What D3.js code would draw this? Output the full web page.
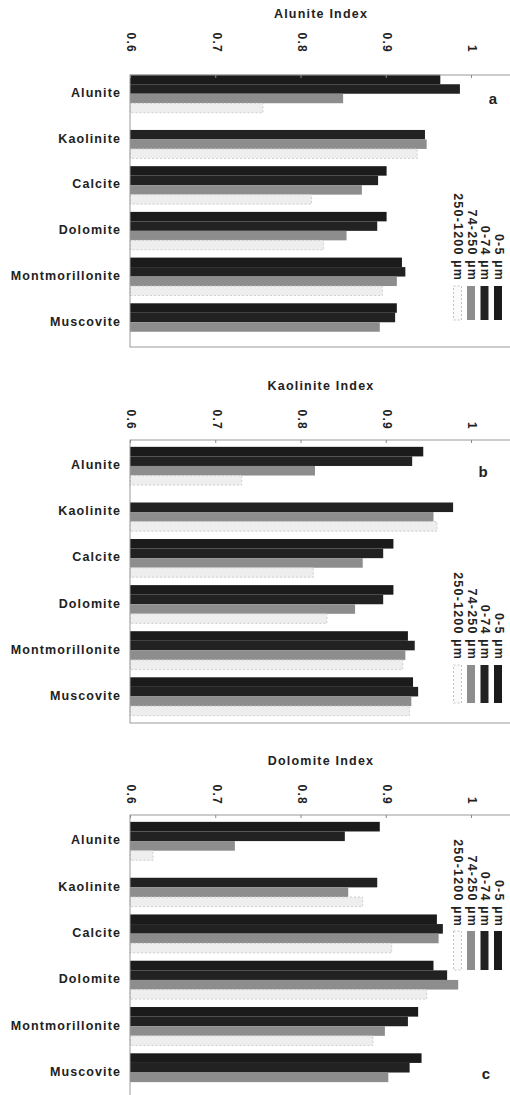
<!DOCTYPE html>
<html>
<head>
<meta charset="utf-8">
<script src="https://cdn.jsdelivr.net/npm/d3@7"></script>
<style>
  body { margin: 0; background: #fff; }
  svg { display: block; font-family: "Liberation Sans", Arial, sans-serif; }
</style>
</head>
<body>
<div id="chart"></div>
<script>
// ---- data ----
const categories = ["Alunite", "Kaolinite", "Calcite", "Dolomite", "Montmorillonite", "Muscovite"];
const seriesLabels = ["0-5 µm", "0-74 µm", "74-250 µm", "250-1200 µm"];
const panelTitles = ["Alunite Index", "Kaolinite Index", "Dolomite Index"];
const panelLetters = ["a", "b", "c"];
const tickValues = [0.6, 0.7, 0.8, 0.9, 1];

// Alunite index (panel a), one array per size fraction
const aluniteIdx_0_5 = [0.964, null, 0.901, 0.901, 0.919, 0.913];
const aluniteIdx_0_74 = [0.987, 0.946, 0.891, 0.890, 0.923, 0.911];
const aluniteIdx_74_250 = [0.850, 0.948, 0.872, 0.854, 0.913, 0.893];
const aluniteIdx_250_1200 = [0.756, 0.937, 0.813, 0.827, 0.896, null];

// Kaolinite index (panel b)
const kaoliniteIdx_0_5 = [0.944, null, 0.909, 0.909, 0.926, 0.932];
const kaoliniteIdx_0_74 = [0.931, 0.979, 0.897, 0.897, 0.934, 0.938];
const kaoliniteIdx_74_250 = [0.817, 0.956, 0.873, 0.864, 0.923, 0.930];
const kaoliniteIdx_250_1200 = [0.731, 0.960, 0.815, 0.831, 0.920, 0.928];

// Dolomite index (panel c)
const dolomiteIdx_0_5 = [0.893, null, 0.960, 0.956, 0.938, 0.942];
const dolomiteIdx_0_74 = [0.852, 0.890, 0.967, 0.972, 0.926, 0.928];
const dolomiteIdx_74_250 = [0.723, 0.856, 0.962, 0.985, 0.899, 0.903];
const dolomiteIdx_250_1200 = [0.627, 0.873, 0.907, 0.948, 0.885, null];

const panelValues = [
  [aluniteIdx_0_5, aluniteIdx_0_74, aluniteIdx_74_250, aluniteIdx_250_1200],
  [kaoliniteIdx_0_5, kaoliniteIdx_0_74, kaoliniteIdx_74_250, kaoliniteIdx_250_1200],
  [dolomiteIdx_0_5, dolomiteIdx_0_74, dolomiteIdx_74_250, dolomiteIdx_250_1200]
];

// ---- layout ----
const width = 510, height = 1095;
const panels = [
  { title: 15,  tickEnd: 53,  top: 75,  bottom: 347,  band0: 67,  step: 47,   letter: [493, 100],  legEnd: 281, sw: [286, 320] },
  { title: 387, tickEnd: 430, top: 440, bottom: 723,  band0: 439, step: 47.4, letter: [483, 473],  legEnd: 660, sw: [665, 703] },
  { title: 762, tickEnd: 805, top: 815, bottom: 1102, band0: 814, step: 47.6, letter: [486, 1075], legEnd: 927, sw: [931, 970] }
];
const fills = ["#1b1b1b", "#222222", "#8d8d8d", "#eeeeee"];
const strokes = ["none", "none", "none", "#c4c4c4"];
const legendX = [498, 484.5, 471, 457.5];

const svg = d3.select("#chart").append("svg")
  .attr("width", width)
  .attr("height", height);

const x = d3.scaleLinear().domain([0.6, 1]).range([130, 471]);
const fmt = d3.format("~g");

panels.forEach((p, pi) => {
  const g = svg.append("g");

  // title
  g.append("text")
    .attr("x", (x(0.6) + 512) / 2)
    .attr("y", p.title)
    .attr("text-anchor", "middle")
    .attr("dominant-baseline", "middle")
    .style("font-size", "12.5px")
    .style("font-weight", "bold")
    .style("letter-spacing", "1.2px")
    .attr("fill", "#222")
    .text(panelTitles[pi]);

  // category band scale
  const y = d3.scaleBand()
    .domain(categories)
    .range([p.band0, p.band0 + p.step * categories.length])
    .padding(0.17);
  const ySub = d3.scaleBand()
    .domain(d3.range(seriesLabels.length))
    .range([0, y.bandwidth()]);

  // bars
  panelValues[pi].forEach((vals, si) => {
    g.append("g").selectAll("rect")
      .data(categories.map((c, ci) => ({ c, v: vals[ci] })).filter(d => d.v != null))
      .enter().append("rect")
      .attr("x", x(0.6))
      .attr("y", d => y(d.c) + ySub(si))
      .attr("width", d => x(d.v) - x(0.6))
      .attr("height", ySub.bandwidth())
      .attr("fill", fills[si])
      .attr("stroke", strokes[si])
      .attr("stroke-dasharray", si === 3 ? "2,2" : null)
      .attr("stroke-width", 0.8);
  });

  // frame (right side runs past the page edge)
  g.append("rect")
    .attr("x", x(0.6))
    .attr("y", p.top)
    .attr("width", 520 - x(0.6))
    .attr("height", p.bottom - p.top)
    .attr("fill", "none")
    .attr("stroke", "#9a9a9a")
    .attr("stroke-width", 1);

  // top axis
  const axis = g.append("g")
    .attr("transform", `translate(0,${p.top})`)
    .call(d3.axisTop(x).tickValues(tickValues).tickFormat(fmt).tickSizeInner(-3).tickSizeOuter(0));
  axis.select(".domain").remove();
  axis.selectAll(".tick line").attr("stroke", "#8a8a8a");
  axis.selectAll(".tick text")
    .attr("x", 0)
    .attr("y", 0)
    .attr("dy", null)
    .attr("transform", `translate(0,${p.tickEnd - p.top}) rotate(90)`)
    .attr("text-anchor", "end")
    .attr("dominant-baseline", "middle")
    .attr("fill", "#222")
    .attr("font-size", 12)
    .attr("font-weight", "bold")
    .attr("font-family", "'Liberation Sans', Arial, sans-serif")
    .style("letter-spacing", "1.3px");

  // category labels
  g.append("g").selectAll("text")
    .data(categories)
    .enter().append("text")
    .attr("x", 121)
    .attr("y", d => y(d) + y.bandwidth() / 2)
    .attr("text-anchor", "end")
    .attr("dominant-baseline", "middle")
    .style("font-size", "12.5px")
    .style("font-weight", "bold")
    .style("letter-spacing", "1.1px")
    .attr("fill", "#222")
    .text(d => d);

  // panel letter
  g.append("text")
    .attr("x", p.letter[0])
    .attr("y", p.letter[1])
    .attr("text-anchor", "middle")
    .attr("dominant-baseline", "middle")
    .style("font-size", "15px")
    .style("font-weight", "bold")
    .attr("fill", "#222")
    .text(panelLetters[pi]);

  // rotated legend
  seriesLabels.forEach((s, si) => {
    g.append("rect")
      .attr("x", legendX[si] - 4)
      .attr("y", p.sw[0])
      .attr("width", 8)
      .attr("height", p.sw[1] - p.sw[0])
      .attr("fill", si === 3 ? "#fafafa" : fills[si])
      .attr("stroke", si === 3 ? "#c4c4c4" : "none")
      .attr("stroke-dasharray", si === 3 ? "2,2" : null);
    g.append("text")
      .attr("transform", `translate(${legendX[si]},${p.legEnd}) rotate(90)`)
      .attr("text-anchor", "end")
      .attr("dominant-baseline", "middle")
      .style("font-size", "12.5px")
      .style("font-weight", "bold")
      .style("letter-spacing", "1.2px")
      .attr("fill", "#222")
      .text(s);
  });
});
</script>
</body>
</html>
